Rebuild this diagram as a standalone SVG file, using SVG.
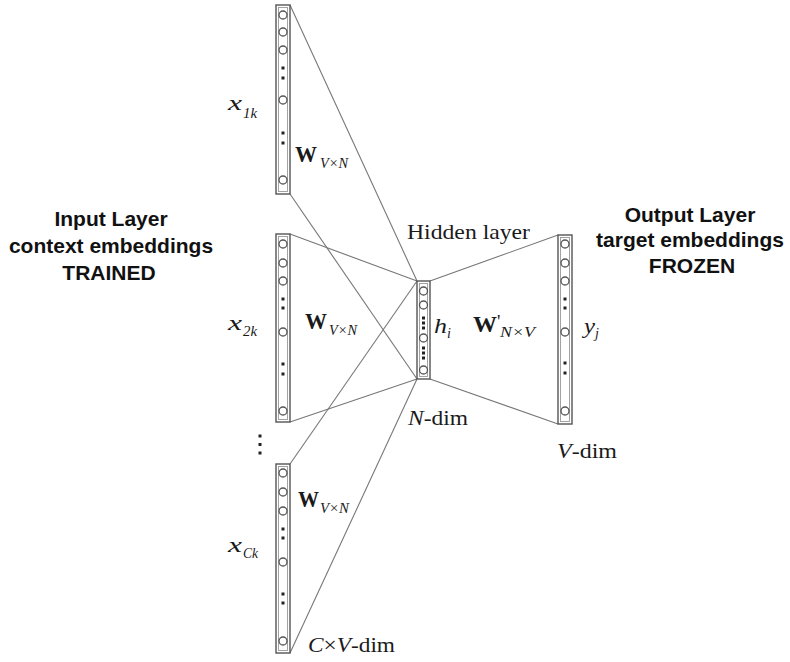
<svg xmlns="http://www.w3.org/2000/svg" width="790" height="662" viewBox="0 0 790 662">
<defs>
<style>
.frame{fill:#fff;stroke:#555;stroke-width:1.4}
.inner{fill:none;stroke:#999;stroke-width:0.9}
.n{fill:#fff;stroke:#555;stroke-width:1.3}
.dot{fill:#222}
.edge{stroke:#777;stroke-width:1.1;fill:none}
.serif{font-family:"Liberation Serif","Times New Roman",serif;fill:#1a1a1a}
.it{font-style:italic}
.bd{font-weight:bold}
.sans{font-family:"Liberation Sans",Arial,sans-serif;font-weight:bold;font-size:21px;fill:#111;text-anchor:middle}
</style>
</defs>
<rect width="790" height="662" fill="#fff"/>
<g id="connectors">
<line class="edge" x1="290" y1="5" x2="417" y2="281"/>
<line class="edge" x1="290" y1="194" x2="417" y2="379"/>
<line class="edge" x1="290" y1="234" x2="417" y2="281"/>
<line class="edge" x1="290" y1="422" x2="417" y2="379"/>
<line class="edge" x1="290" y1="464" x2="417" y2="281"/>
<line class="edge" x1="290" y1="653" x2="417" y2="379"/>
<line class="edge" x1="430" y1="281" x2="558" y2="235"/>
<line class="edge" x1="430" y1="379" x2="558" y2="424"/>
</g>
<g id="input1">
<rect class="frame" x="276" y="5" width="14" height="189"/>
<rect class="inner" x="278.5" y="7.5" width="9" height="184"/>
<circle class="n" cx="283" cy="15" r="4"/>
<circle class="n" cx="283" cy="32" r="4"/>
<circle class="n" cx="283" cy="50" r="4"/>
<rect class="dot" x="281.5" y="66.5" width="3" height="3"/>
<rect class="dot" x="281.5" y="76.5" width="3" height="3"/>
<circle class="n" cx="283" cy="100" r="4"/>
<rect class="dot" x="281.5" y="131.5" width="3" height="3"/>
<rect class="dot" x="281.5" y="141.5" width="3" height="3"/>
<circle class="n" cx="283" cy="180" r="4"/>
</g>
<g id="input2">
<rect class="frame" x="276" y="234" width="14" height="188"/>
<rect class="inner" x="278.5" y="236.5" width="9" height="183"/>
<circle class="n" cx="283" cy="244" r="4"/>
<circle class="n" cx="283" cy="263" r="4"/>
<circle class="n" cx="283" cy="281" r="4"/>
<rect class="dot" x="281.5" y="297.5" width="3" height="3"/>
<rect class="dot" x="281.5" y="306.5" width="3" height="3"/>
<circle class="n" cx="283" cy="332" r="4"/>
<rect class="dot" x="281.5" y="362.5" width="3" height="3"/>
<rect class="dot" x="281.5" y="372.5" width="3" height="3"/>
<circle class="n" cx="283" cy="411" r="4"/>
</g>
<g id="input3">
<rect class="frame" x="276" y="464" width="14" height="189"/>
<rect class="inner" x="278.5" y="466.5" width="9" height="184"/>
<circle class="n" cx="283" cy="473" r="4"/>
<circle class="n" cx="283" cy="492" r="4"/>
<circle class="n" cx="283" cy="511" r="4"/>
<rect class="dot" x="281.5" y="527.5" width="3" height="3"/>
<rect class="dot" x="281.5" y="536.5" width="3" height="3"/>
<circle class="n" cx="283" cy="562" r="4"/>
<rect class="dot" x="281.5" y="592.5" width="3" height="3"/>
<rect class="dot" x="281.5" y="601.5" width="3" height="3"/>
<circle class="n" cx="283" cy="641" r="4"/>
</g>
<g id="hidden">
<rect class="frame" x="417" y="281" width="13" height="98"/>
<rect class="inner" x="419.5" y="283.5" width="8" height="93"/>
<circle class="n" cx="423.5" cy="291" r="4"/>
<circle class="n" cx="423.5" cy="305" r="4"/>
<rect class="dot" x="422" y="316.5" width="3" height="3"/>
<rect class="dot" x="422" y="321.5" width="3" height="3"/>
<rect class="dot" x="422" y="326.5" width="3" height="3"/>
<circle class="n" cx="423.5" cy="338" r="4"/>
<rect class="dot" x="422" y="346.5" width="3" height="3"/>
<rect class="dot" x="422" y="351.5" width="3" height="3"/>
<rect class="dot" x="422" y="356.5" width="3" height="3"/>
<circle class="n" cx="423.5" cy="370" r="4"/>
</g>
<g id="output">
<rect class="frame" x="558" y="235" width="14" height="189"/>
<rect class="inner" x="560.5" y="237.5" width="9" height="184"/>
<circle class="n" cx="565" cy="244" r="4"/>
<circle class="n" cx="565" cy="263" r="4"/>
<circle class="n" cx="565" cy="281" r="4"/>
<rect class="dot" x="563.5" y="297.5" width="3" height="3"/>
<rect class="dot" x="563.5" y="306.5" width="3" height="3"/>
<circle class="n" cx="565" cy="332" r="4"/>
<rect class="dot" x="563.5" y="361.5" width="3" height="3"/>
<rect class="dot" x="563.5" y="371.5" width="3" height="3"/>
<circle class="n" cx="565" cy="411" r="4"/>
</g>
<g id="ellipsis">
<rect class="dot" x="258.5" y="434.5" width="3" height="3"/>
<rect class="dot" x="258.5" y="443" width="3" height="3"/>
<rect class="dot" x="258.5" y="451.5" width="3" height="3"/>
</g>
<g id="labels">
<text class="serif it" x="228" y="110" font-size="22" textLength="14" lengthAdjust="spacingAndGlyphs">x</text>
<text class="serif it" x="243" y="118" font-size="15" textLength="14" lengthAdjust="spacingAndGlyphs">1k</text>
<text class="serif it" x="228" y="330" font-size="22" textLength="14" lengthAdjust="spacingAndGlyphs">x</text>
<text class="serif it" x="243" y="336" font-size="15" textLength="14" lengthAdjust="spacingAndGlyphs">2k</text>
<text class="serif it" x="228" y="552" font-size="22" textLength="14" lengthAdjust="spacingAndGlyphs">x</text>
<text class="serif it" x="243" y="558" font-size="15" textLength="15" lengthAdjust="spacingAndGlyphs">Ck</text>

<text class="serif bd" x="295" y="162" font-size="24" textLength="22" lengthAdjust="spacingAndGlyphs">W</text>
<text class="serif it" x="320" y="168" font-size="15" textLength="28" lengthAdjust="spacingAndGlyphs">V×N</text>
<text class="serif bd" x="305" y="329" font-size="24" textLength="22" lengthAdjust="spacingAndGlyphs">W</text>
<text class="serif it" x="329" y="335" font-size="15" textLength="28" lengthAdjust="spacingAndGlyphs">V×N</text>
<text class="serif bd" x="298" y="507" font-size="24" textLength="21" lengthAdjust="spacingAndGlyphs">W</text>
<text class="serif it" x="320" y="513" font-size="15" textLength="29" lengthAdjust="spacingAndGlyphs">V×N</text>

<text class="serif" x="407" y="239" font-size="21" textLength="123" lengthAdjust="spacingAndGlyphs">Hidden layer</text>
<text class="serif it" x="434" y="333" font-size="22" textLength="13" lengthAdjust="spacingAndGlyphs">h</text>
<text class="serif it" x="447" y="338" font-size="14">i</text>
<text class="serif bd" x="473" y="332" font-size="24" textLength="24" lengthAdjust="spacingAndGlyphs">W</text>
<text class="serif" x="497" y="328" font-size="19">'</text>
<text class="serif it" x="500" y="337" font-size="15" textLength="35" lengthAdjust="spacingAndGlyphs">N×V</text>
<text class="serif it" x="584" y="333" font-size="22" textLength="11" lengthAdjust="spacingAndGlyphs">y</text>
<text class="serif it" x="595" y="338" font-size="14">j</text>

<text class="serif" x="408" y="425" font-size="21" textLength="60" lengthAdjust="spacingAndGlyphs"><tspan class="it">N</tspan>-dim</text>
<text class="serif" x="557" y="458" font-size="21" textLength="60" lengthAdjust="spacingAndGlyphs"><tspan class="it">V</tspan>-dim</text>
<text class="serif" x="308" y="652" font-size="21" textLength="87" lengthAdjust="spacingAndGlyphs"><tspan class="it">C</tspan>×<tspan class="it">V</tspan>-dim</text>

<text class="sans" x="111" y="226">Input Layer</text>
<text class="sans" x="111" y="253">context embeddings</text>
<text class="sans" x="109" y="280">TRAINED</text>
<text class="sans" x="690" y="222">Output Layer</text>
<text class="sans" x="690" y="247">target embeddings</text>
<text class="sans" x="692" y="273">FROZEN</text>
</g>
</svg>
